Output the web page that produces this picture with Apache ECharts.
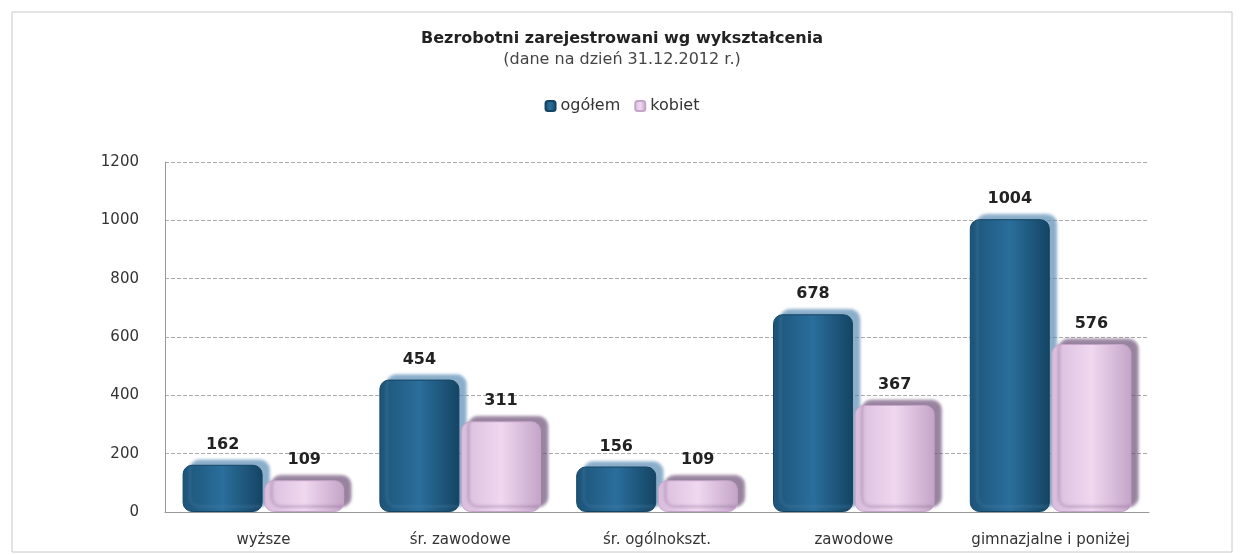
<!DOCTYPE html>
<html>
<head>
<meta charset="utf-8">
<script src="https://cdn.jsdelivr.net/npm/echarts@6/dist/echarts.min.js"></script>
<style>
  html, body { margin: 0; padding: 0; background: #fff; }
  #chart { width: 1244px; height: 555px; }
</style>
</head>
<body>
<div id="chart"></div>
<script>
var categories = ['wyższe', 'śr. zawodowe', 'śr. ogólnokszt.', 'zawodowe', 'gimnazjalne i poniżej'];
var ogolem = [162, 454, 156, 678, 1004];
var kobiet = [109, 311, 109, 367, 576];
var yTicks = [0, 200, 400, 600, 800, 1000, 1200];

var chart = echarts.init(document.getElementById('chart'));

var font = '"DejaVu Sans", "Open Sans", sans-serif';

function barStyle(c1, c2, c3, shadow) {
  return {
    color: new echarts.graphic.LinearGradient(0, 0, 1, 0, [
      { offset: 0, color: c1 },
      { offset: 0.5, color: c2 },
      { offset: 1, color: c3 }
    ]),
    borderRadius: 9,
    borderColor: c3,
    borderWidth: 1,
    shadowColor: shadow,
    shadowBlur: 3,
    shadowOffsetX: 7,
    shadowOffsetY: -5
  };
}

chart.setOption({
  backgroundColor: '#fff',
  animation: false,
  textStyle: { fontFamily: font },
  title: {
    text: 'Bezrobotni zarejestrowani wg wykształcenia',
    subtext: '(dane na dzień 31.12.2012 r.)',
    left: 'center',
    top: 26,
    itemGap: 5,
    textStyle: { fontFamily: font, fontSize: 16, fontWeight: 'bold', color: '#222' },
    subtextStyle: { fontFamily: font, fontSize: 16, color: '#444' }
  },
  legend: {
    top: 93,
    left: 'center',
    itemWidth: 10,
    itemHeight: 10,
    itemGap: 14,
    textStyle: { fontFamily: font, fontSize: 16, color: '#333' },
    data: ['ogółem', 'kobiet']
  },
  graphic: [{
    type: 'rect',
    shape: { x: 12, y: 12, width: 1220, height: 540 },
    style: { fill: 'none', stroke: '#c8c8c8', lineWidth: 1 },
    silent: true
  }],
  grid: { left: 165, right: 95, top: 162, bottom: 43 },
  xAxis: {
    type: 'category',
    data: categories,
    axisTick: { show: false },
    axisLine: { show: true, lineStyle: { color: '#999' } },
    axisLabel: { fontFamily: font, fontSize: 15, color: '#333', margin: 21, interval: 0 }
  },
  yAxis: {
    type: 'value',
    min: yTicks[0],
    max: yTicks[yTicks.length - 1],
    interval: yTicks[1] - yTicks[0],
    axisLine: { show: true, lineStyle: { color: '#999' } },
    axisTick: { show: false },
    axisLabel: { fontFamily: font, fontSize: 15, color: '#333', margin: 26, formatter: function (v) { return String(v); } },
    splitLine: { lineStyle: { color: '#aaa', type: [4, 2] } }
  },
  series: [{
    name: 'ogółem',
    type: 'bar',
    data: ogolem,
    barWidth: 80,
    barGap: '2%',
    itemStyle: barStyle('#1d5478', '#2a6e9c', '#154463', 'rgba(90,140,180,0.7)'),
    label: { show: true, position: 'top', distance: 12, fontFamily: font, fontSize: 16, fontWeight: 'bold', color: '#222' }
  }, {
    name: 'kobiet',
    type: 'bar',
    data: kobiet,
    barWidth: 80,
    itemStyle: barStyle('#d9bcdc', '#f0d8f0', '#c4a4c8', 'rgba(110,80,120,0.7)'),
    label: { show: true, position: 'top', distance: 12, fontFamily: font, fontSize: 16, fontWeight: 'bold', color: '#222' }
  }]
});
</script>
</body>
</html>
